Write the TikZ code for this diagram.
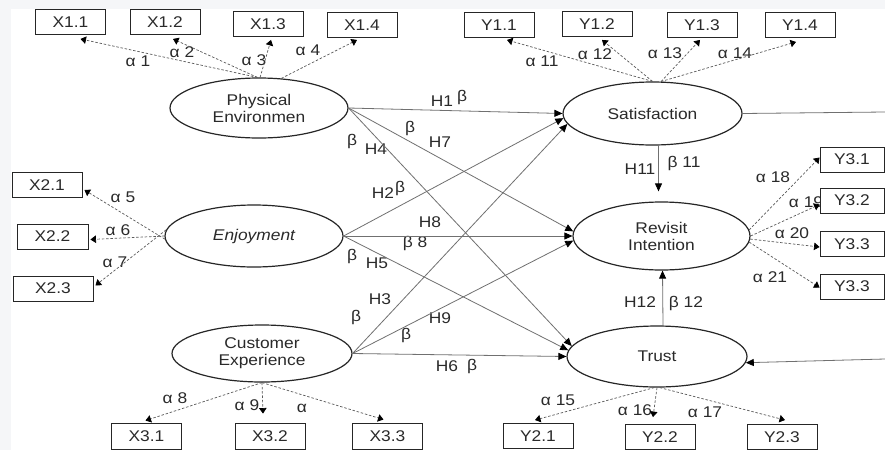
\documentclass[tikz,border=0pt]{standalone}
\usepackage{fontspec}
\setmainfont{Liberation Sans}[FakeStretch=1.12]
\usetikzlibrary{shapes.geometric,arrows.meta,calc}
\definecolor{bgray}{HTML}{F5F6F8}
\definecolor{txt}{HTML}{2A2A2A}
\definecolor{pathc}{HTML}{707070}
\definecolor{dashc}{HTML}{5A5A5A}
\begin{document}
\begin{tikzpicture}[x=1pt,y=-1pt,
  font=\fontsize{15.5}{17}\selectfont, text=txt,
  lat/.style={ellipse, draw=black!85, line width=1.2pt, inner sep=0pt, align=center},
  ind/.style={draw=black!85, line width=0.9pt, fill=white, minimum width=70pt, minimum height=25pt, inner sep=0pt},
  lbl/.style={inner sep=0pt},
  load/.style={draw=dashc, line width=0.7pt, dash pattern=on 2.5pt off 1.8pt, -{Triangle[length=5.5pt,width=7.5pt,color=black]}},
  struct/.style={draw=pathc, line width=0.8pt, -{Triangle[length=8pt,width=7pt,color=black]}},
  plain/.style={draw=pathc, line width=0.8pt}]
\fill[bgray] (0,0) rectangle (885,450);
\fill[white] (11,9) rectangle (885,450);
\useasboundingbox (0,0) rectangle (885,450);

% labels (drawn first so boxes may cover them)
\node[lbl] (a1) at (138,61) {α 1};
\node[lbl] (a2) at (182,52) {α 2};
\node[lbl] (a3) at (254,60) {α 3};
\node[lbl] (a4) at (308,50) {α 4};
\node[lbl] (a11) at (542,61) {α 11};
\node[lbl] (a12) at (595,54) {α 12};
\node[lbl] (a13) at (665,53) {α 13};
\node[lbl] (a14) at (735,53) {α 14};
\node[lbl] (a5) at (123,197) {α 5};
\node[lbl] (a6) at (118,230) {α 6};
\node[lbl] (a7) at (115,262) {α 7};
\node[lbl] (a18) at (773,177) {α 18};
\node[lbl] (a19) at (806,202) {α 19};
\node[lbl] (a20) at (792,233) {α 20};
\node[lbl] (a21) at (770,277) {α 21};
\node[lbl] (a8) at (175,398) {α 8};
\node[lbl] (a9) at (247,405) {α 9};
\node[lbl] (a10) at (302,408) {α};
\node[lbl] (a15) at (558,400) {α 15};
\node[lbl] (a16) at (635,410) {α 16};
\node[lbl] (a17) at (705,412) {α 17};

\node[lbl] (h1) at (442,101) {H1};
\node[lbl] (b1) at (462,97) {β};
\node[lbl] (b7) at (410,128) {β};
\node[lbl] (h7) at (440,142) {H7};
\node[lbl] (b4) at (352,141) {β};
\node[lbl] (h4) at (376,149) {H4};
\node[lbl] (h2) at (383,193) {H2};
\node[lbl] (b2) at (400,188) {β};
\node[lbl] (h8) at (430,222) {H8};
\node[lbl] (b8) at (415,243) {β 8};
\node[lbl] (b5) at (352,256) {β};
\node[lbl] (h5) at (377,263) {H5};
\node[lbl] (h3) at (380,299) {H3};
\node[lbl] (b3) at (356,317) {β};
\node[lbl] (h9) at (440,318) {H9};
\node[lbl] (b9) at (406,335) {β};
\node[lbl] (h6) at (447,366) {H6};
\node[lbl] (b6) at (472,366) {β};
\node[lbl] (h11) at (640,169) {H11};
\node[lbl] (b11) at (684,163) {β 11};
\node[lbl] (h12) at (640,302) {H12};
\node[lbl] (b12) at (686,303) {β 12};

% latent variables
\node[lat, minimum width=178pt, minimum height=60pt] (pe) at (259,108) {Physical\\Environmen};
\node[lat, minimum width=179pt, minimum height=63pt] (sat) at (652.5,113.5) {Satisfaction};
\node[lat, minimum width=178pt, minimum height=62pt] (enj) at (254,236) {\itshape Enjoyment};
\node[lat, minimum width=177pt, minimum height=68pt] (ri) at (661.5,236) {Revisit\\Intention};
\node[lat, minimum width=180pt, minimum height=57pt] (ce) at (262,353.5) {Customer\\Experience};
\node[lat, minimum width=180pt, minimum height=61pt] (tr) at (657,356.5) {Trust};

% indicators
\node[ind] (x11) at (70.5,22) {X1.1};
\node[ind] (x12) at (165,22) {X1.2};
\node[ind] (x13) at (268,24) {X1.3};
\node[ind] (x14) at (362,25) {X1.4};
\node[ind] (y11) at (499,25) {Y1.1};
\node[ind] (y12) at (597,24) {Y1.2};
\node[ind] (y13) at (702,25) {Y1.3};
\node[ind] (y14) at (800,25) {Y1.4};
\node[ind] (x21) at (47,185) {X2.1};
\node[ind, minimum width=71pt] (x22) at (52.5,236.5) {X2.2};
\node[ind, minimum width=80pt] (x23) at (53,288.5) {X2.3};
\node[ind, minimum width=64pt] (y31) at (852,159.5) {Y3.1};
\node[ind, minimum width=64pt] (y32) at (852,200.5) {Y3.2};
\node[ind, minimum width=64pt] (y33) at (852,244) {Y3.3};
\node[ind, minimum width=64pt] (y34) at (852,286.5) {Y3.3};
\node[ind, minimum height=26pt] (x31) at (146.5,436) {X3.1};
\node[ind, minimum height=26pt] (x32) at (270,436) {X3.2};
\node[ind, minimum height=26pt] (x33) at (387.5,436) {X3.3};
\node[ind] (y21) at (538,436) {Y2.1};
\node[ind] (y22) at (660,437) {Y2.2};
\node[ind] (y23) at (782,437) {Y2.3};

\coordinate (satout) at (885,112);
\coordinate (trin) at (885,359);

% loadings
\draw[load] (pe.93) -- ($(x11.south)+(10,4)$);
\draw[load] (pe.93) -- ($(x12.south)+(8,4)$);
\draw[load] (pe.88) -- ($(x13.south)+(3,3)$);
\draw[load] (pe.53) -- ($(x14.south)+(-5,2)$);
\draw[load] (sat.north) -- ($(y11.south)+(8,2)$);
\draw[load] (sat.north) -- ($(y12.south)+(5,3)$);
\draw[load] (sat.75) -- ($(y13.south)+(-2,2)$);
\draw[load] (sat.75) -- ($(y14.south)+(-4,4)$);
\draw[load] (enj.182) -- ($(x21.east)+(2,5)$);
\draw[load] (enj.180) -- ($(x22.east)+(2,3)$);
\draw[load] (enj.176) -- ($(x23.east)+(2,-3)$);
\draw[load] (ri.4) -- ($(y31.west)+(0,-2)$);
\draw[load] (ri.0) -- ($(y32.west)+(0,4)$);
\draw[load] (ri.-2) -- ($(y33.west)+(0,3)$);
\draw[load] (ri.-4) -- ($(y34.west)+(0,1)$);
\draw[load] (ce.south) -- ($(x31.north)+(-1,-2)$);
\draw[load] (ce.south) -- ($(x32.north)+(-7,-9)$);
\draw[load] (ce.south) -- ($(x33.north)+(-4,-3)$);
\draw[load] (tr.265) -- ($(y21.north)+(-3,-3)$);
\draw[load] (tr.south) -- ($(y22.north)+(-7,-7)$);
\draw[load] (tr.-85) -- ($(y23.north)+(3,-4)$);

% structural paths
\draw[struct] (pe.east) -- (sat.west);
\draw[struct] (pe.east) -- (ri.177);
\draw[struct] (pe.east) -- (tr.173);
\draw[struct] (enj.east) -- (sat.183);
\draw[struct] (enj.east) -- (ri.180);
\draw[struct] (enj.east) -- (tr.176);
\draw[struct] (ce.east) -- (sat.187);
\draw[struct] (ce.east) -- (ri.183);
\draw[struct] (ce.east) -- (tr.west);
\draw[struct] ($(sat.south)+(6,0)$) -- ($(ri.north)+(-3,-10)$);
\draw[struct] ($(tr.north)+(6,0)$) -- ($(ri.south)+(1,0)$);
\draw[plain] (sat.east) -- (satout);
\draw[struct] (trin) -- (tr.-4);
\end{tikzpicture}
\end{document}
